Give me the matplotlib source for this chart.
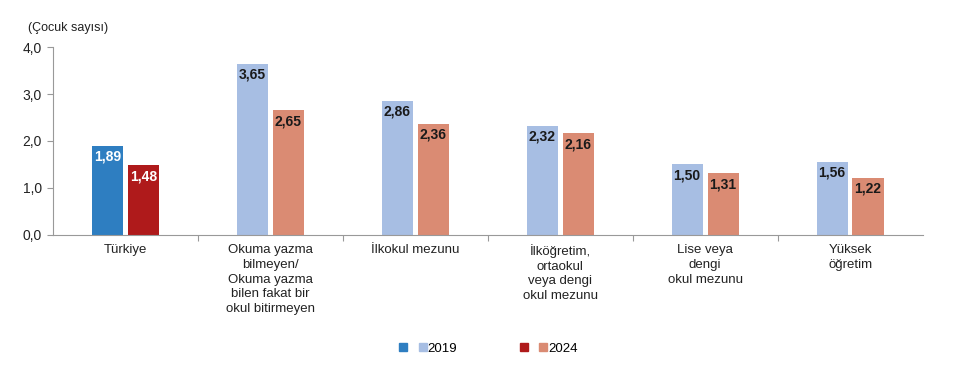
import matplotlib.pyplot as plt
import numpy as np
from matplotlib.legend_handler import HandlerTuple
from matplotlib.lines import Line2D

plt.rcParams['font.family'] = ['Liberation Sans', 'DejaVu Sans']

categories = ['Türkiye',
              'Okuma yazma\nbilmeyen/\nOkuma yazma\nbilen fakat bir\nokul bitirmeyen',
              'İlkokul mezunu',
              'İlköğretim,\nortaokul\nveya dengi\nokul mezunu',
              'Lise veya\ndengi\nokul mezunu',
              'Yüksek\nöğretim']
values_2019 = [1.89, 3.65, 2.86, 2.32, 1.50, 1.56]
values_2024 = [1.48, 2.65, 2.36, 2.16, 1.31, 1.22]
yticks = [0.0, 1.0, 2.0, 3.0, 4.0]


def fmt(v, nd):
    return f'{v:.{nd}f}'.replace('.', ',')


def main():
    fig = plt.figure(figsize=(9.62, 3.8), dpi=100)
    ax = fig.add_axes([0.055, 0.382, 0.904, 0.494])

    dark19, light19 = '#2E7EC1', '#A7BEE3'
    dark24, light24 = '#AF1A1B', '#DA8B73'
    x = np.arange(len(categories)) + 0.5
    w = 0.215
    off = 0.124
    c19 = [dark19] + [light19] * (len(categories) - 1)
    c24 = [dark24] + [light24] * (len(categories) - 1)
    b1 = ax.bar(x - off, values_2019, w, color=c19)
    b2 = ax.bar(x + off, values_2024, w, color=c24)

    for bars in (b1, b2):
        for i, r in enumerate(bars):
            col = 'white' if i == 0 else '#1a1a1a'
            ax.text(r.get_x() + r.get_width() / 2, r.get_height() - 0.08,
                    fmt(r.get_height(), 2), ha='center', va='top',
                    fontsize=10, fontweight='bold', color=col)

    ax.set_xlim(0, len(categories))
    ax.set_ylim(0, 4)
    ax.set_yticks(yticks)
    ax.set_yticklabels([fmt(v, 1) for v in yticks], fontsize=10, color='#222222')
    ax.set_xticks(np.arange(1, len(categories)))
    ax.set_xticklabels([])
    ax.tick_params(axis='x', length=4, color='#999999', direction='out')
    ax.tick_params(axis='y', length=4, color='#999999', direction='out', pad=4)
    for s in ('top', 'right'):
        ax.spines[s].set_visible(False)
    for s in ('left', 'bottom'):
        ax.spines[s].set_color('#999999')

    for xi, lab in zip(x, categories):
        ax.text(xi, -0.19, lab, ha='center', va='top', fontsize=9.5,
                linespacing=1.32, color='#222222', transform=ax.transData)

    fig.text(0.029, 0.925, '(Çocuk sayısı)', fontsize=9, color='#222222',
             ha='left', va='center')

    def sq(c):
        return Line2D([], [], marker='s', linestyle='none', markersize=5.5,
                      markerfacecolor=c, markeredgecolor=c)

    fig.legend([(sq(dark19), sq(light19)), (sq(dark24), sq(light24))],
               ['2019', '2024'], loc='center', bbox_to_anchor=(0.508, 0.083),
               ncol=2, frameon=False, fontsize=9.5, columnspacing=4.8,
               handletextpad=0.1, handlelength=2.0,
               handler_map={tuple: HandlerTuple(ndivide=None, pad=0.9)})

    fig.savefig('out.png', dpi=100)


if __name__ == '__main__':
    main()
